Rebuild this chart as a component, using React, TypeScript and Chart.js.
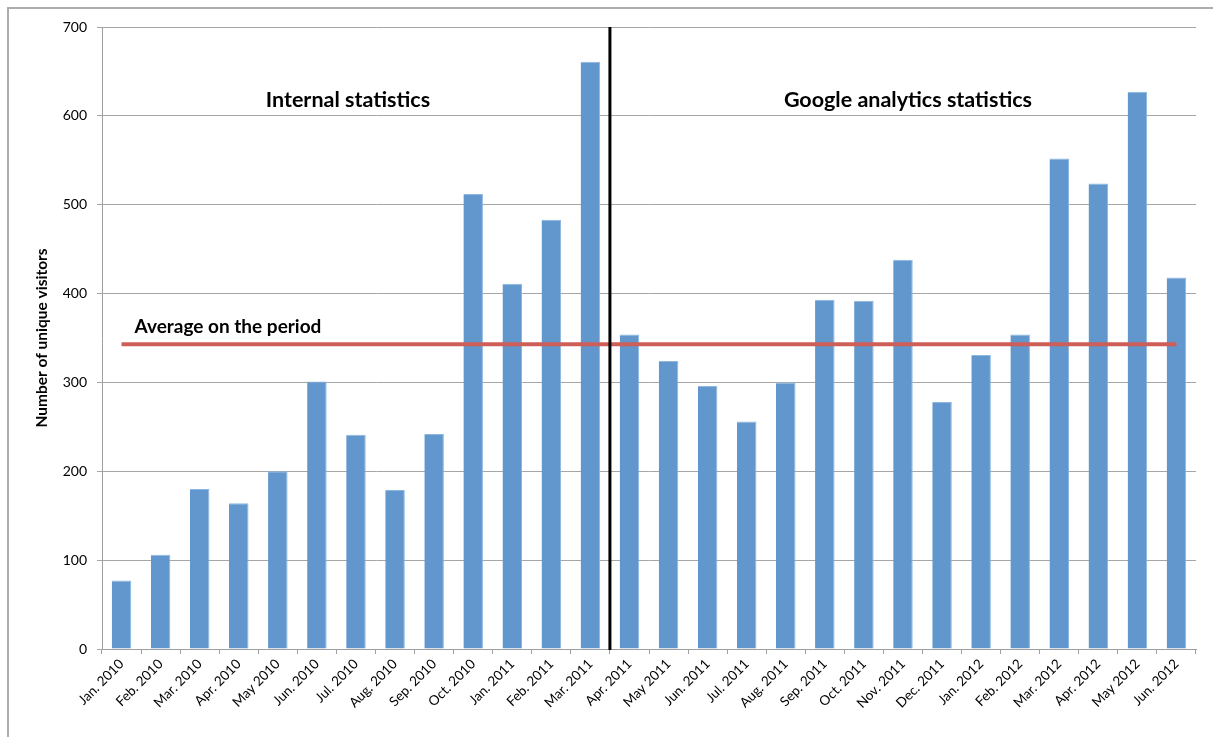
import React, { useEffect, useRef } from 'react';
import { Chart, registerables } from 'chart.js';

Chart.register(...registerables);

const categories = [
  'Jan. 2010', 'Feb. 2010', 'Mar. 2010', 'Apr. 2010', 'May 2010', 'Jun. 2010', 'Jul. 2010',
  'Aug. 2010', 'Sep. 2010', 'Oct. 2010', 'Jan. 2011', 'Feb. 2011', 'Mar. 2011', 'Apr. 2011',
  'May 2011', 'Jun. 2011', 'Jul. 2011', 'Aug. 2011', 'Sep. 2011', 'Oct. 2011', 'Nov. 2011',
  'Dec. 2011', 'Jan. 2012', 'Feb. 2012', 'Mar. 2012', 'Apr. 2012', 'May 2012', 'Jun. 2012',
];

const visitors = [
  77, 106, 180, 164, 200, 301, 241, 179, 242, 512, 411, 483, 661, 354,
  324, 296, 256, 300, 393, 392, 438, 278, 331, 354, 552, 524, 627, 418,
];

const averageSeries = [
  343, 343, 343, 343, 343, 343, 343, 343, 343, 343, 343, 343, 343, 343,
  343, 343, 343, 343, 343, 343, 343, 343, 343, 343, 343, 343, 343, 343,
];

const yMin = 0;
const yMax = 700;
const yStep = 100;

const lastInternalIndex = 12;
const firstGoogleIndex = 13;

const internalLabel = 'Internal statistics';
const googleLabel = 'Google analytics statistics';
const averageLabel = 'Average on the period';
const yAxisTitle = 'Number of unique visitors';

const FONT = 'Lato, "Open Sans", sans-serif';

const overlayPlugin = {
  id: 'overlay',
  beforeDraw(chart: any) {
    const ctx = chart.ctx;
    ctx.save();
    ctx.strokeStyle = '#ADADAD';
    ctx.lineWidth = 2;
    ctx.beginPath();
    ctx.moveTo(8, chart.height + 5);
    ctx.lineTo(8, 8);
    ctx.lineTo(chart.width + 5, 8);
    ctx.stroke();
    ctx.restore();
  },
  afterDatasetsDraw(chart: any) {
    const ctx = chart.ctx;
    const xs = chart.scales.x;
    const ys = chart.scales.y;
    ctx.save();
    const sx = (xs.getPixelForValue(lastInternalIndex) + xs.getPixelForValue(firstGoogleIndex)) / 2;
    ctx.strokeStyle = '#000000';
    ctx.lineWidth = 3;
    ctx.beginPath();
    ctx.moveTo(sx, ys.top);
    ctx.lineTo(sx, ys.bottom + 1);
    ctx.stroke();

    ctx.fillStyle = '#000000';
    ctx.font = `bold 21.5px ${FONT}`;
    ctx.textAlign = 'center';
    ctx.textBaseline = 'middle';
    const ty = ys.getPixelForValue(618);
    ctx.fillText(internalLabel, (xs.getPixelForValue(0) + xs.getPixelForValue(lastInternalIndex)) / 2 - 8, ty);
    ctx.fillText(googleLabel, (xs.getPixelForValue(firstGoogleIndex) + xs.getPixelForValue(categories.length - 1)) / 2 + 5, ty);

    ctx.font = `bold 19px ${FONT}`;
    ctx.textAlign = 'left';
    ctx.fillText(averageLabel, xs.getPixelForValue(0) + 13, ys.getPixelForValue(362));
    ctx.restore();
  },
};

export default function App() {
  const canvasRef = useRef<HTMLCanvasElement | null>(null);

  useEffect(() => {
    if (!canvasRef.current) return;
    const chart = new Chart(canvasRef.current, {
      type: 'bar',
      data: {
        labels: categories,
        datasets: [
          {
            type: 'line',
            label: 'Average',
            data: averageSeries,
            borderColor: '#CE5E58',
            borderWidth: 4,
            pointRadius: 0,
            fill: false,
            order: 0,
          } as any,
          {
            type: 'bar',
            label: 'Unique visitors',
            data: visitors,
            backgroundColor: '#6197CD',
            borderColor: '#8DB6E0',
            borderWidth: { top: 1, left: 0, right: 1, bottom: 0 },
            barPercentage: 0.5,
            categoryPercentage: 1,
            order: 1,
          },
        ],
      },
      options: {
        responsive: true,
        maintainAspectRatio: false,
        animation: false,
        layout: { padding: { left: 0, top: 27, right: 17, bottom: 0 } },
        plugins: {
          legend: { display: false },
          tooltip: { enabled: false },
        },
        scales: {
          x: {
            offset: true,
            grid: {
              offset: true,
              drawOnChartArea: false,
              drawTicks: true,
              tickLength: 5,
              color: '#9E9E9E',
            },
            border: { color: '#9E9E9E', width: 1 },
            ticks: {
              autoSkip: false,
              maxRotation: 45,
              minRotation: 45,
              padding: 2,
              color: '#000000',
              font: { family: FONT, size: 13.5 },
            },
            afterFit(scale: any) {
              scale.height = 88;
            },
          },
          y: {
            min: yMin,
            max: yMax,
            ticks: {
              stepSize: yStep,
              padding: 10,
              color: '#000000',
              font: { family: FONT, size: 14 },
            },
            grid: {
              color: '#A6A6A6',
              lineWidth: 1,
              tickLength: 5,
            },
            border: { color: '#9E9E9E', width: 1 },
            title: {
              display: true,
              text: yAxisTitle,
              color: '#000000',
              font: { family: FONT, size: 15.5, weight: 'bold' },
              padding: { top: 33, bottom: 0 },
            },
            afterFit(scale: any) {
              scale.width = 102;
            },
          },
        },
      },
      plugins: [overlayPlugin],
    });
    return () => chart.destroy();
  }, []);

  return (
    <div style={{ position: 'fixed', left: 0, top: 0, width: 1213, height: 737, background: '#ffffff' }}>
      <canvas ref={canvasRef} />
    </div>
  );
}
